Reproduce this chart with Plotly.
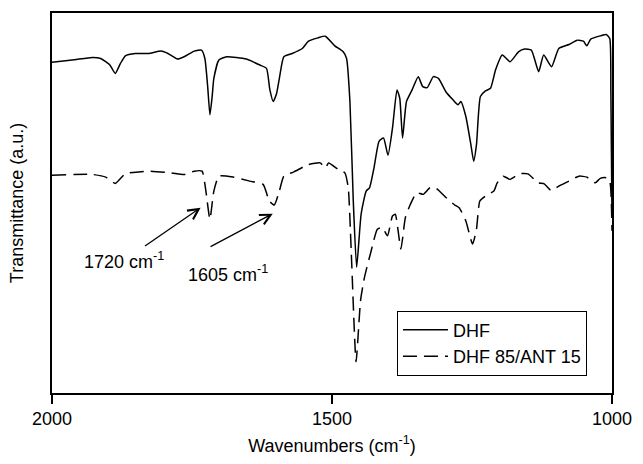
import plotly.graph_objects as go

# Wavenumbers (cm-1) and transmittance (arbitrary units)
dhf_wn = [2000, 1960, 1928, 1913, 1897, 1887, 1878, 1869, 1851, 1828, 1805, 1793,
          1776, 1764, 1746, 1733, 1727, 1722, 1718, 1714, 1711, 1702, 1688, 1653,
          1629, 1617, 1611, 1605, 1599, 1594, 1586, 1571, 1553, 1542, 1525, 1512,
          1495, 1480, 1474, 1468, 1462, 1456, 1448, 1439, 1433, 1425, 1416, 1408,
          1400, 1392, 1384, 1379, 1374, 1367, 1357, 1346, 1338, 1330, 1319, 1310,
          1296, 1284, 1275, 1270, 1261, 1252, 1247, 1242, 1235, 1226, 1217, 1208,
          1196, 1182, 1167, 1156, 1144, 1131, 1122, 1108, 1095, 1077, 1062, 1051,
          1045, 1038, 1021, 1010, 1004, 1002, 1000]
dhf_t = [339.5, 342, 344.3, 343.3, 337, 328.3, 338, 346, 348.3, 348.3, 350.7, 348.3,
         342.7, 345, 350.7, 351.7, 343.3, 315, 286.7, 305, 323.3, 341.7, 345, 342.7,
         336.7, 333.3, 312, 300, 308, 323.3, 345, 348.3, 353.3, 360.7, 364, 365.7,
         356, 350, 343.3, 300, 200, 133.3, 186.7, 210, 213.3, 233.3, 260, 263.3,
         246, 273.3, 311.7, 303.3, 263.3, 300, 311.7, 325, 315, 314, 325, 323.3,
         309.3, 301.7, 296.7, 300, 285, 256.7, 240, 256.7, 305, 310.7, 313.3, 331.7,
         346.7, 340, 350, 352.7, 351.7, 330, 346.7, 335, 353.3, 357.3, 361.7, 360.7,
         356, 362.7, 366, 367.3, 363.3, 310, 185]

blend_wn = [2000, 1928, 1904, 1887, 1869, 1828, 1787, 1764, 1746, 1732, 1726, 1718,
            1711, 1702, 1676, 1647, 1623, 1612, 1603, 1594, 1586, 1568, 1542, 1521,
            1512, 1506, 1489, 1477, 1471, 1465, 1457, 1449, 1442, 1430, 1419, 1410,
            1401, 1392, 1387, 1377, 1369, 1360, 1349, 1337, 1325, 1314, 1296, 1281,
            1273, 1261, 1249, 1242, 1236, 1226, 1211, 1205, 1194, 1182, 1165, 1150,
            1132, 1121, 1109, 1095, 1077, 1059, 1045, 1030, 1021, 1010, 1004, 1000]
blend_t = [226, 226.7, 224, 217.7, 227.3, 230, 228.3, 226.7, 230, 230, 213.3, 181.7,
           210, 225, 224, 220, 216.7, 200, 196, 210, 225, 229.3, 236.7, 238.3,
           233.3, 238.3, 231.7, 228.3, 213.3, 140, 38.3, 100, 123.3, 150, 171.7, 173.3,
           165, 185, 186.7, 151.7, 183.3, 196.7, 208.3, 206.7, 213.3, 212.7, 203.3, 196,
           193.3, 180, 156.7, 171.7, 200, 205, 210, 218.3, 225, 221.7, 227.3, 227.3,
           218.3, 217.3, 210.7, 215, 220, 225, 224, 218.3, 222.7, 223.3, 220, 170]

tick_vals = [2000, 1500, 1000]
tick_text = ["2000", "1500", "1000"]

band_labels = ["1720 cm<sup>-1</sup>", "1605 cm<sup>-1</sup>"]

FONT = "Liberation Sans, Arial, Helvetica, sans-serif"

fig = go.Figure()
fig.add_trace(go.Scatter(x=dhf_wn, y=dhf_t, mode="lines", name="DHF",
                         line=dict(color="black", width=1.5, shape="spline", smoothing=0.5)))
fig.add_trace(go.Scatter(x=blend_wn, y=blend_t, mode="lines", name="DHF 85/ANT 15",
                         line=dict(color="black", width=1.5, dash="14px,7px",
                                   shape="spline", smoothing=0.5)))

# 1720 label: text centred on the arrow tail
fig.add_annotation(x=1734.6, y=193.3, ax=1872, ay=140, xref="x", yref="y",
                   axref="x", ayref="y", text=band_labels[0], showarrow=True,
                   arrowhead=5, arrowsize=1.6, arrowwidth=1.3, arrowcolor="black",
                   startstandoff=3, font=dict(size=18, color="black", family=FONT))
# 1605 label: text hangs below-right of the arrow tail
fig.add_annotation(x=1605.8, y=187.3, ax=1761, ay=141, xref="x", yref="y",
                   axref="x", ayref="y", xanchor="left", yanchor="top",
                   text=band_labels[1], showarrow=True,
                   arrowhead=5, arrowsize=1.6, arrowwidth=1.3, arrowcolor="black",
                   startstandoff=28, font=dict(size=18, color="black", family=FONT))

fig.update_layout(
    width=643, height=464,
    margin=dict(l=52, r=21, t=11, b=71),
    paper_bgcolor="white", plot_bgcolor="white",
    font=dict(family=FONT, size=18, color="black"),
    showlegend=True,
    legend=dict(x=0.616, y=0.217, xanchor="left", yanchor="top",
                bordercolor="black", borderwidth=1, bgcolor="white",
                font=dict(size=18), itemwidth=45, tracegroupgap=0,
                entrywidth=160, entrywidthmode="pixels"),
    xaxis=dict(range=[2000, 1000], tickvals=tick_vals, ticktext=tick_text,
               ticks="outside", ticklen=9, tickwidth=1.5, tickcolor="black",
               showline=True, linecolor="black", linewidth=1.5, mirror=True,
               showgrid=False, zeroline=False,
               title=dict(text="Wavenumbers (cm<sup>-1</sup>)", standoff=11,
                          font=dict(size=18))),
    yaxis=dict(range=[7, 389], showticklabels=False, ticks="",
               showline=True, linecolor="black", linewidth=1.5, mirror=True,
               showgrid=False, zeroline=False,
               title=dict(text="Transmittance (a.u.)", standoff=22,
                          font=dict(size=18))),
)

fig.write_html("out.html")
